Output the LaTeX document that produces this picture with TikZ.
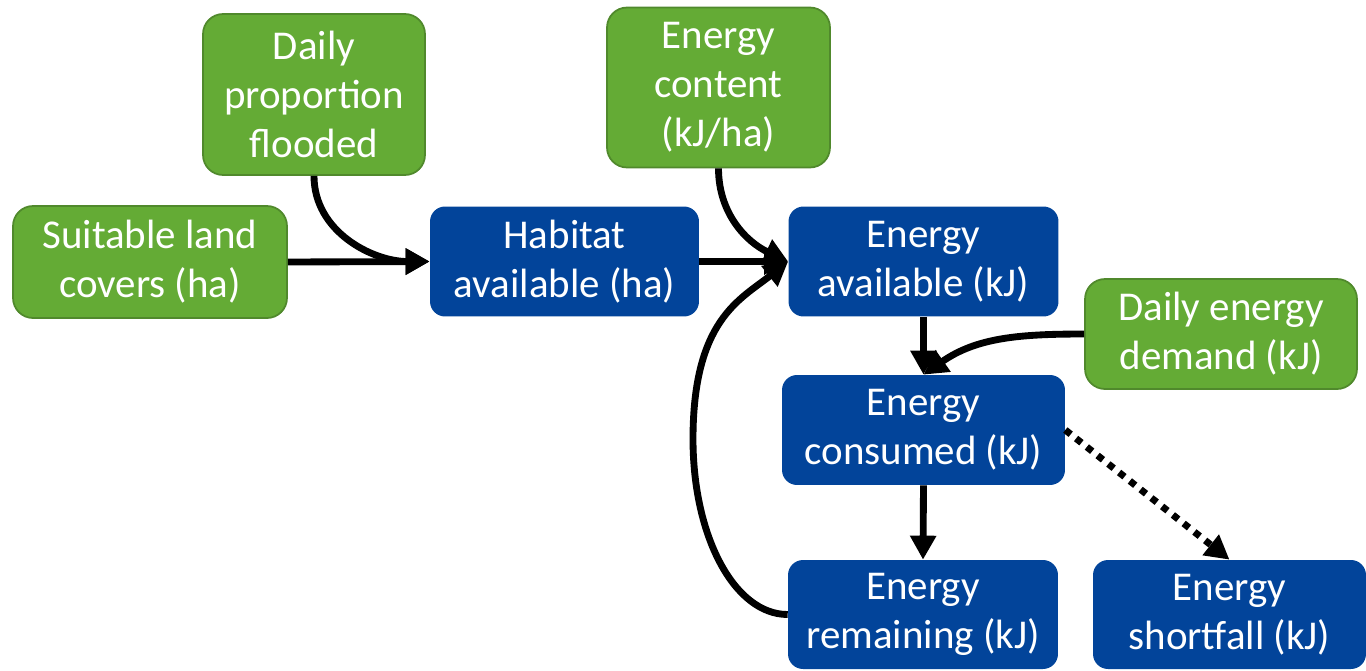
\documentclass[tikz,border=0pt]{standalone}
\usepackage{fontspec}
\setmainfont{Carlito}
\usetikzlibrary{arrows.meta}
\definecolor{grn}{HTML}{64AB35}
\definecolor{grnb}{HTML}{50892C}
\definecolor{blu}{HTML}{02449A}
\begin{document}
\begin{tikzpicture}[x=0.02cm,y=-0.02cm,
  box/.style={rectangle, inner sep=0pt, align=center, text=white, font=\fontsize{23.3}{28}\selectfont},
  gbox/.style={box, fill=grn, draw=grnb, line width=1pt, rounded corners=0.4cm},
  bbox/.style={box, fill=blu, rounded corners=0.3cm},
  conn/.style={line width=3.9pt, -{Triangle[length=0.48cm,width=0.5cm]}},
  dotconn/.style={conn, dash pattern=on 3.9pt off 3.9pt}
]
\useasboundingbox (0,0) rectangle (1366,670);
\node[gbox, minimum width=4.44cm, minimum height=3.22cm] (dpf) at (314,94.5) {Daily\\proportion\\flooded};
\node[gbox, minimum width=5.48cm, minimum height=2.24cm] (slc) at (150,262) {Suitable land\\covers (ha)};
\node[bbox, minimum width=5.38cm, minimum height=2.20cm] (ha) at (564.5,261.5) {Habitat\\available (ha)};
\node[gbox, minimum width=4.46cm, minimum height=3.20cm] (ec) at (718.5,87.5) {Energy\\content\\(kJ/ha)};
\node[bbox, minimum width=5.40cm, minimum height=2.20cm] (ea) at (923.5,261.5) {Energy\\available (kJ)};
\node[gbox, minimum width=5.44cm, minimum height=2.20cm] (ded) at (1221,334) {Daily energy\\demand (kJ)};
\node[bbox, minimum width=5.66cm, minimum height=2.20cm] (ecn) at (923.5,430) {Energy\\consumed (kJ)};
\node[bbox, minimum width=5.40cm, minimum height=2.18cm] (er) at (923,614.5) {Energy\\remaining (kJ)};
\node[bbox, minimum width=5.46cm, minimum height=2.18cm] (esf) at (1229.5,614.5) {Energy\\shortfall (kJ)};
\coordinate (loopL) at (693,439);

\draw[conn] (slc.east) -- (ha.west);
\draw[conn] (dpf.south) to[out=-90,in=180] (ha.west);
\draw[conn] (ha.east) -- (ea.west);
\draw[conn] (ec.south) to[out=-90,in=155] (ea.west);
\draw[conn] (er.west) .. controls +(-53,0) and +(0,98) .. (loopL) .. controls +(0,-119) and +(-48,38) .. (ea.west);
\draw[conn] (ea.south) -- (ecn.north);
\draw[conn] (ded.west) to[out=180,in=35] (ecn.north);
\draw[conn] (ecn.south) -- (er.north);
\draw[dotconn] (ecn.east) -- (esf.north);
\end{tikzpicture}
\end{document}
